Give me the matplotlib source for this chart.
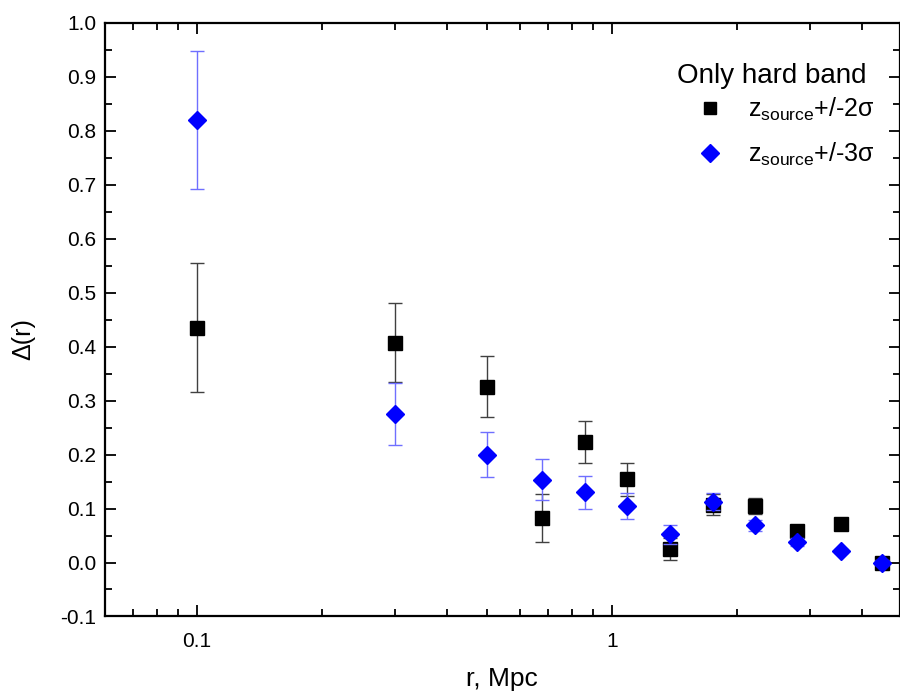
import matplotlib
matplotlib.use("Agg")
import matplotlib.pyplot as plt
from matplotlib.ticker import FixedLocator, MultipleLocator, FixedFormatter
from matplotlib.lines import Line2D

plt.rcParams['font.family'] = ['Liberation Sans', 'DejaVu Sans']
plt.rcParams['mathtext.fontset'] = 'custom'
plt.rcParams['mathtext.rm'] = 'Liberation Sans'

# radius bins, Mpc
r = [0.1, 0.3, 0.5, 0.68, 0.86, 1.09, 1.38, 1.75, 2.21, 2.79, 3.56, 4.47]

# z_source +/- 2 sigma (black squares)
d2 = [0.435, 0.407, 0.326, 0.082, 0.224, 0.154, 0.025, 0.107, 0.104, 0.058, 0.072, 0.0]
e2 = [0.120, 0.073, 0.057, 0.044, 0.039, 0.030, 0.021, 0.019, 0.015, 0.006, 0.005, 0.004]

# z_source +/- 3 sigma (blue diamonds)
d3 = [0.820, 0.275, 0.200, 0.153, 0.130, 0.104, 0.052, 0.113, 0.069, 0.038, 0.021, 0.0]
e3 = [0.128, 0.057, 0.042, 0.038, 0.030, 0.024, 0.018, 0.015, 0.010, 0.008, 0.004, 0.004]

labels = ['z$_{\\mathrm{source}}$+/-2σ', 'z$_{\\mathrm{source}}$+/-3σ']

fig = plt.figure(figsize=(9, 7), dpi=100)
ax = fig.add_axes([0.1167, 0.1193, 0.8828, 0.8483])

ax.errorbar(r, d2, yerr=e2, fmt='s', color='black', ms=9.5, ecolor='#404040',
            elinewidth=1.0, capsize=5, capthick=1.0, zorder=3)
ax.errorbar(r, d3, yerr=e3, fmt='D', color='#0000ff', ms=9.5, mec='#0000ff',
            ecolor='#6f6fff', elinewidth=1.0, capsize=5, capthick=1.0, zorder=4)

ax.set_xscale('log')
ax.set_xlim(0.0601, 4.93)
ax.set_ylim(-0.1, 1.0)

ax.xaxis.set_major_locator(FixedLocator([0.1, 1]))
ax.xaxis.set_major_formatter(FixedFormatter(['0.1', '1']))
ax.xaxis.set_minor_locator(FixedLocator([0.07, 0.08, 0.09, 0.2, 0.3, 0.4, 0.5, 0.6,
                                         0.7, 0.8, 0.9, 2, 3, 4]))
ax.xaxis.set_minor_formatter(FixedFormatter([]))
ax.yaxis.set_major_locator(MultipleLocator(0.1))
ax.yaxis.set_minor_locator(MultipleLocator(0.05))
ax.yaxis.set_major_formatter(plt.FuncFormatter(lambda v, p: '%.1f' % v))

ax.tick_params(which='both', direction='in', top=True, right=True, width=1.3)
ax.tick_params(which='major', length=8, labelsize=15)
ax.tick_params(axis='y', which='major', pad=6.5)
ax.tick_params(axis='x', which='major', pad=11)
ax.tick_params(which='minor', length=5)
for s in ax.spines.values():
    s.set_linewidth(1.6)

ax.set_xlabel('r, Mpc', fontsize=19)
ax.xaxis.set_label_coords(0.5, -0.085)
ax.set_ylabel('Δ(r)', fontsize=18)
ax.yaxis.set_label_coords(-0.088, 0.467)

# legend title sits a little closer to the entries than matplotlib's default
ax.text(0.839, 0.910, 'Only hard band', transform=ax.transAxes, fontsize=20,
        ha='center', va='center')
handles = [Line2D([], [], ls='none', marker='s', color='black', ms=8.5),
           Line2D([], [], ls='none', marker='D', color='#0000ff', ms=9.5)]
leg = ax.legend(handles, labels, loc='upper right', bbox_to_anchor=(0.9965, 0.915),
                frameon=False, fontsize=18, handletextpad=0.85,
                labelspacing=0.72, handlelength=1.3)

fig.savefig('out.png', dpi=100)
